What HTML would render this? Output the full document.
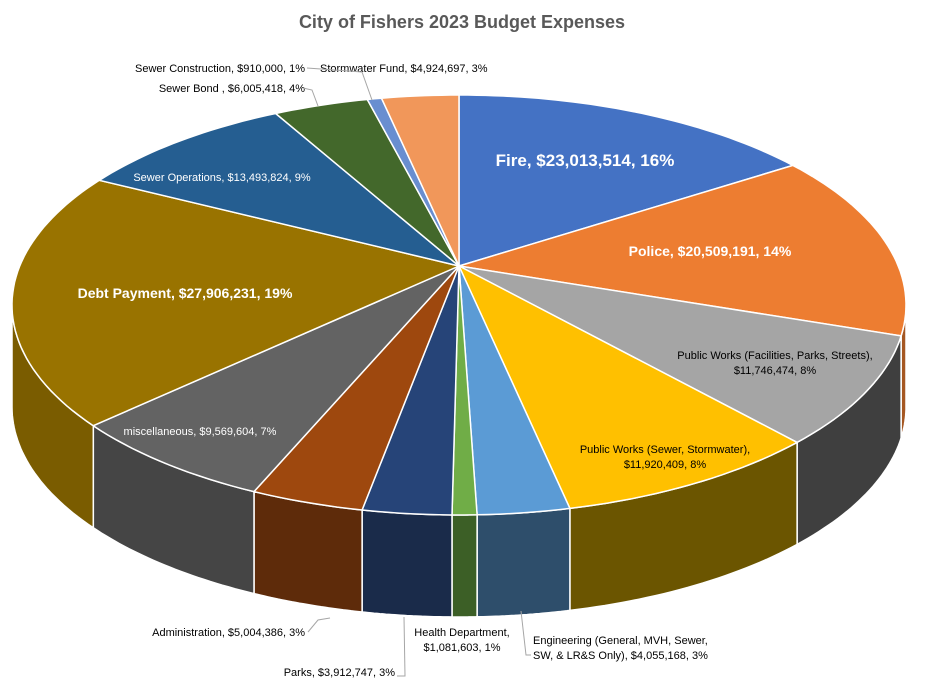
<!DOCTYPE html>
<html><head><meta charset="utf-8"><style>
body{margin:0;background:#fff;}
svg{display:block;font-family:"Liberation Sans",Calibri,sans-serif;}
</style></head><body>
<svg id="chart" width="925" height="684" viewBox="0 0 925 684">
<text x="462" y="28" text-anchor="middle" font-size="18" font-weight="bold" fill="#595959">City of Fishers 2023 Budget Expenses</text>
<g id="sides"></g><g id="tops"></g><g id="labels"></g>
</svg>
<script>
const categories=["Fire","Police","Public Works (Facilities, Parks, Streets)","Public Works (Sewer, Stormwater)","Engineering (General, MVH, Sewer, SW, & LR&S Only)","Health Department","Parks","Administration","miscellaneous","Debt Payment","Sewer Operations","Sewer Bond ","Sewer Construction","Stormwater Fund"];
const values=[23013514,20509191,11746474,11920409,4055168,1081603,3912747,5004386,9569604,27906231,13493824,6005418,910000,4924697];
const colors=["#4472C4","#ED7D31","#A5A5A5","#FFC000","#5B9BD5","#70AD47","#264478","#9E480E","#636363","#997300","#255E91","#43682B","#698ED0","#F1975A"];
const sideColors=["#2f4f8a","#a55722","#3f3f3f","#6b5500","#2e4e6b","#3c5f26","#1a2b4a","#5e2b0a","#454545","#7a5c00","#1a4266","#2f4a1e","#4a6592","#a8693f"];
const NS="http://www.w3.org/2000/svg";
const cx=459,cy=305,rx=447,ry=210,ax=459,ay=266,depth=102;
const total=values.reduce((a,b)=>a+b,0);
function warp(t){return t-0.19*Math.sin(t);}
function pt(t,dy){const w=warp(t);return [cx+rx*Math.sin(w),cy-ry*Math.cos(w)+(dy||0)];}
function fmt(v){return "$"+v.toLocaleString("en-US");}
const sides=document.getElementById("sides"),tops=document.getElementById("tops"),labels=document.getElementById("labels");
let acc=0;const angles=[];
values.forEach(v=>{const a0=acc/total*2*Math.PI;acc+=v;angles.push([a0,acc/total*2*Math.PI]);});
// visible side range in warped space: [pi/2, 3pi/2]; find raw angle limits
function inv(w){let t=w;for(let k=0;k<30;k++){t=t-(warp(t)-w)/(1-0.19*Math.cos(t));}return t;}
const sLim=inv(Math.PI/2),eLim=inv(Math.PI*1.5);
angles.forEach(([a0,a1],i)=>{
  const s=Math.max(a0,sLim),e=Math.min(a1,eLim);
  if(e<=s)return;
  let d="";const n=30;
  for(let k=0;k<=n;k++){const p=pt(s+(e-s)*k/n);d+=(k?"L":"M")+p[0].toFixed(1)+","+p[1].toFixed(1);}
  for(let k=n;k>=0;k--){const p=pt(s+(e-s)*k/n,depth);d+="L"+p[0].toFixed(1)+","+p[1].toFixed(1);}
  const el=document.createElementNS(NS,"path");
  el.setAttribute("d",d+"Z");el.setAttribute("fill",sideColors[i]);el.setAttribute("stroke","#fff");el.setAttribute("stroke-width","1.5");
  
  
  sides.appendChild(el);
});
angles.forEach(([a0,a1],i)=>{
  let d="M"+ax+","+ay;const n=Math.max(4,Math.ceil((a1-a0)*40));
  for(let k=0;k<=n;k++){const p=pt(a0+(a1-a0)*k/n);d+="L"+p[0].toFixed(1)+","+p[1].toFixed(1);}
  const el=document.createElementNS(NS,"path");
  el.setAttribute("d",d+"Z");el.setAttribute("fill",colors[i]);el.setAttribute("stroke","#fff");el.setAttribute("stroke-width","1.5");el.setAttribute("stroke-linejoin","round");
  
  
  tops.appendChild(el);
});
const layout=[[585,166,"middle","#fff",17,"bold",0],[710,256,"middle","#fff",14,"bold",0],[775,359,"middle","#000",11,"normal",1],[665,453,"middle","#000",11,"normal",1],[533,644,"start","#000",11,"normal",2],[462,636,"middle","#000",11,"normal",1],[395,676,"end","#000",11,"normal",0],[305,636,"end","#000",11,"normal",0],[200,435,"middle","#fff",11,"normal",0],[185,298,"middle","#fff",14,"bold",0],[222,181,"middle","#fff",11,"normal",0],[305,92,"end","#000",11,"normal",0],[305,72,"end","#000",11,"normal",0],[320,72,"start","#000",11,"normal",0]];
categories.forEach((c,i)=>{
  const L=layout[i];const pct=Math.round(values[i]/total*100)+"%";
  let lines;
  if(L[6]==0)lines=[c+", "+fmt(values[i])+", "+pct];
  else if(L[6]==1)lines=[c+",",fmt(values[i])+", "+pct];
  else lines=["Engineering (General, MVH, Sewer,","SW, & LR&S Only), "+fmt(values[i])+", "+pct];
  const t=document.createElementNS(NS,"text");
  t.setAttribute("x",L[0]);t.setAttribute("y",L[1]);t.setAttribute("text-anchor",L[2]);t.setAttribute("fill",L[3]);t.setAttribute("font-size",L[4]);t.setAttribute("font-weight",L[5]);
  
  
  lines.forEach((ln,j)=>{const ts=document.createElementNS(NS,"tspan");ts.setAttribute("x",L[0]);ts.setAttribute("dy",j?15:0);ts.textContent=ln;t.appendChild(ts);});
  labels.appendChild(t);
});
const leaders=["M307,68 L362,72 L372,100","M303,88 L312,90 L318,106","M308,632 L318,620 L330,618","M397,676 L405,676 L404,617","M531,655 L526,655 L521,611"];
leaders.forEach((d,i)=>{const p=document.createElementNS(NS,"path");p.setAttribute("d",d);p.setAttribute("fill","none");p.setAttribute("stroke","#a6a6a6");p.setAttribute("stroke-width","1");


labels.appendChild(p);});
</script>
</body></html>
